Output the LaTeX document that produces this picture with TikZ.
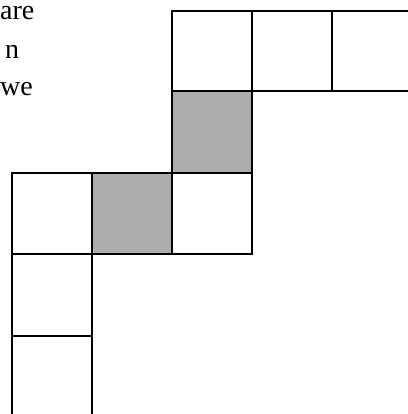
\documentclass[tikz,border=0pt]{standalone}
\usepackage{fontspec}
\setmainfont{Liberation Serif}
\begin{document}
\begin{tikzpicture}[x=1pt,y=-1pt,
  cell/.style={draw=black,line width=2pt},
  shaded/.style={cell,fill=black!32},
  txt/.style={font=\fontsize{28}{32}\selectfont,anchor=base west,inner sep=0pt}]
\useasboundingbox (0,0) rectangle (407,414);
% top row
\draw[cell] (409,11) -- (172,11) -- (172,91) -- (409,91);
\draw[cell] (252,11) -- (252,91);
\draw[cell] (332,11) -- (332,91);
% shaded square upper
\draw[shaded] (172,91) rectangle (252,173);
% middle row
\draw[cell] (12,173) rectangle (92,254);
\draw[shaded] (92,173) rectangle (172,254);
\draw[cell] (172,173) rectangle (252,254);
% column
\draw[cell] (12,254) rectangle (92,336);
\draw[cell] (12,416) -- (12,336) -- (92,336) -- (92,416);
% text
\node[txt] (t1) at (0,20) {are};
\node[txt] (t2) at (5,59) {n};
\node[txt] (t3) at (0,96) {we};
\end{tikzpicture}
\end{document}
